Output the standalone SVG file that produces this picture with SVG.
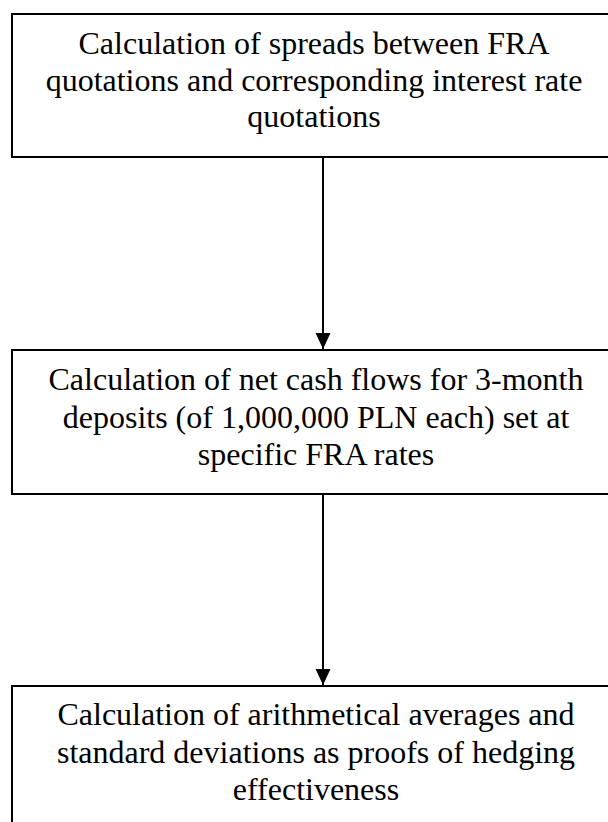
<svg xmlns="http://www.w3.org/2000/svg" width="608" height="822" viewBox="0 0 608 822">
<style>
.box{fill:#fff;stroke:#000;stroke-width:2}
.t{font-family:"Liberation Serif","Times New Roman",serif;font-size:32px;fill:#000;text-anchor:middle}
.conn{stroke:#000;stroke-width:2;fill:none}
</style>
<defs>
<marker id="ah" markerUnits="userSpaceOnUse" markerWidth="16" markerHeight="16" refX="16" refY="8" orient="auto">
<path d="M0,0.5 L16,8 L0,15.5 Z" fill="#000"/>
</marker>
</defs>
<rect width="608" height="822" fill="#fff"/>
<g id="node1">
<rect class="box" x="12" y="14" width="610" height="143"/>
<text class="t" x="314" y="54">Calculation of spreads between FRA</text>
<text class="t" x="314" y="90.5">quotations and corresponding interest rate</text>
<text class="t" x="314" y="127">quotations</text>
</g>
<g id="node2">
<rect class="box" x="12" y="350" width="610" height="144"/>
<text class="t" x="316" y="390">Calculation of net cash flows for 3-month</text>
<text class="t" x="316" y="427.5">deposits (of 1,000,000 PLN each) set at</text>
<text class="t" x="316" y="465">specific FRA rates</text>
</g>
<g id="node3">
<rect class="box" x="12" y="686" width="610" height="150"/>
<text class="t" x="316" y="725">Calculation of arithmetical averages and</text>
<text class="t" x="316" y="762.5">standard deviations as proofs of hedging</text>
<text class="t" x="316" y="800">effectiveness</text>
</g>
<g id="connectors">
<line class="conn" x1="323" y1="157" x2="323" y2="349" marker-end="url(#ah)"/>
<line class="conn" x1="323" y1="494" x2="323" y2="685" marker-end="url(#ah)"/>
</g>
</svg>
